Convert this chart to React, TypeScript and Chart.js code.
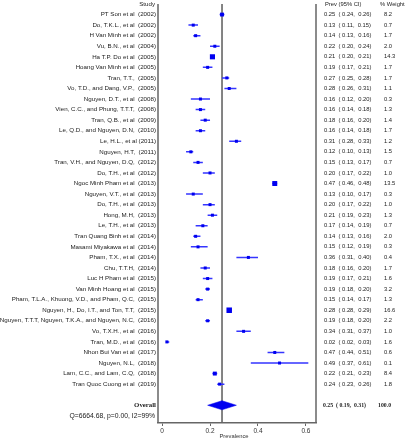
import React, { useEffect, useRef } from "react";
import { Chart, registerables } from "chart.js";

Chart.register(...registerables);

const studies = [
  "PT Son et al  (2002)",
  "Do, T.K.L., et al  (2002)",
  "H Van Minh et al  (2002)",
  "Vu, B.N., et al  (2004)",
  "Ha T.P. Do et al  (2005)",
  "Hoang Van Minh et al  (2005)",
  "Tran, T.T.,  (2005)",
  "Vo, T.D., and Dang, V.P.,  (2005)",
  "Nguyen, D.T., et al  (2008)",
  "Vien, C.C., and Phung, T.T.T,  (2008)",
  "Tran, Q.B., et al  (2009)",
  "Le, Q.D., and Nguyen, D.N,  (2010)",
  "Le, H.L., et al (2011)",
  "Nguyen, H.T,  (2011)",
  "Tran, V.H., and Nguyen, D.Q,  (2012)",
  "Do, T.H., et al  (2012)",
  "Ngoc Minh Pham et al  (2013)",
  "Nguyen, V.T., et al  (2013)",
  "Do, T.H., et al  (2013)",
  "Hong, M.H,  (2013)",
  "Le, T.H., et al  (2013)",
  "Tran Quang Binh et al  (2014)",
  "Masami Miyakawa et al  (2014)",
  "Pham, T.X., et al  (2014)",
  "Chu, T.T.H,  (2014)",
  "Luc H Pham et al  (2015)",
  "Van Minh Hoang et al  (2015)",
  "Pham, T.L.A., Khuong, V.D., and Pham, Q.C,  (2015)",
  "Nguyen, H., Do, I.T., and Ton, T.T,  (2015)",
  "Nguyen, T.T.T, Nguyen, T.K.A., and Nguyen, N.C,  (2016)",
  "Vo, T.X.H., et al  (2016)",
  "Tran, M.D., et al  (2016)",
  "Nhon Bui Van et al  (2017)",
  "Nguyen, N.L,  (2018)",
  "Lam, C.C., and Lam, C.Q,  (2018)",
  "Tran Quoc Cuong et al  (2019)",
];

const prev = [0.25, 0.13, 0.14, 0.22, 0.21, 0.19, 0.27, 0.28, 0.16, 0.16, 0.18, 0.16, 0.31, 0.12, 0.15, 0.20, 0.47, 0.13, 0.20, 0.21, 0.17, 0.14, 0.15, 0.36, 0.18, 0.19, 0.19, 0.15, 0.28, 0.19, 0.34, 0.02, 0.47, 0.49, 0.22, 0.24];
const lower = [0.24, 0.11, 0.13, 0.20, 0.20, 0.17, 0.25, 0.26, 0.12, 0.14, 0.16, 0.14, 0.28, 0.10, 0.13, 0.17, 0.46, 0.10, 0.17, 0.19, 0.14, 0.13, 0.12, 0.31, 0.16, 0.17, 0.18, 0.14, 0.28, 0.18, 0.31, 0.02, 0.44, 0.37, 0.21, 0.23];
const upper = [0.26, 0.15, 0.16, 0.24, 0.21, 0.21, 0.28, 0.31, 0.20, 0.18, 0.20, 0.18, 0.33, 0.13, 0.17, 0.22, 0.48, 0.17, 0.22, 0.23, 0.19, 0.16, 0.19, 0.40, 0.20, 0.21, 0.20, 0.17, 0.29, 0.20, 0.37, 0.03, 0.51, 0.61, 0.23, 0.26];
const weights = [8.2, 0.7, 1.7, 2.0, 14.3, 1.7, 1.7, 1.1, 0.3, 1.3, 1.4, 1.7, 1.2, 1.5, 0.7, 1.0, 13.5, 0.3, 1.0, 1.3, 0.7, 2.0, 0.3, 0.4, 1.7, 1.6, 3.2, 1.3, 16.6, 2.2, 1.0, 1.6, 0.6, 0.1, 8.4, 1.8];

const overallEst = 0.25;
const overallLow = 0.19;
const overallHigh = 0.31;
const overallWeight = "100.0";
const heterogeneity = "Q=6664.68, p=0.00, I2=99%";

const xTicks = [0, 0.2, 0.4, 0.6];
const xTickLabels = ["0", "0.2", "0.4", "0.6"];

const fmt = (v: number) => v.toFixed(2);

export default function App() {
  const ref = useRef<HTMLCanvasElement | null>(null);

  useEffect(() => {
    if (!ref.current) return;
    const n = studies.length;
    const overallRow = n + 1;
    const qRow = n + 2;
    const yMin = -1;
    const yMax = 38.68;

    const ciData: any[] = [];
    for (let i = 0; i < n; i++) {
      ciData.push({ x: lower[i], y: i });
      ciData.push({ x: upper[i], y: i });
      ciData.push({ x: null, y: null });
    }
    const sq = prev.map((p, i) => ({ x: p, y: i }));
    const radii = weights.map((w) => Math.max(3, 1.35 * Math.sqrt(w)) / Math.SQRT2);
    const dh = 0.43;
    const diamond = [
      { x: overallLow, y: overallRow },
      { x: overallEst, y: overallRow - dh },
      { x: overallHigh, y: overallRow },
      { x: overallEst, y: overallRow + dh },
      { x: overallLow, y: overallRow },
    ];

    const textPlugin = {
      id: "forestText",
      afterDraw(chart: any) {
        const ctx = chart.ctx;
        const ys = chart.scales.y;
        const xs = chart.scales.x;
        const area = chart.chartArea;
        ctx.save();
        ctx.strokeStyle = "#666";
        ctx.lineWidth = 1.5;
        ctx.beginPath();
        ctx.moveTo(area.left, area.top);
        ctx.lineTo(area.left, area.bottom);
        ctx.moveTo(area.right, area.top);
        ctx.lineTo(area.right, area.bottom);
        ctx.stroke();

        ctx.fillStyle = "#222";
        ctx.textBaseline = "middle";
        const lab = "6.2px 'Liberation Sans', Arial, sans-serif";
        const num = "5.8px 'Liberation Sans', Arial, sans-serif";
        const lx = area.left - 2;
        const cx = area.right + 8;
        const wx = area.right + 68;

        ctx.font = lab;
        ctx.textAlign = "right";
        ctx.fillText("Study", lx - 1, ys.getPixelForValue(-1) + 0.5);
        ctx.font = num;
        ctx.textAlign = "left";
        ctx.fillText("Prev (95% CI)", cx + 1, ys.getPixelForValue(-1) + 0.5);
        ctx.fillText("% Weight", wx - 4, ys.getPixelForValue(-1) + 0.5);

        for (let i = 0; i < n; i++) {
          const y = ys.getPixelForValue(i);
          ctx.font = lab;
          ctx.textAlign = "right";
          ctx.fillText(studies[i], lx, y);
          ctx.font = num;
          ctx.textAlign = "left";
          ctx.fillText(`${fmt(prev[i])}  ( ${fmt(lower[i])},  ${fmt(upper[i])})`, cx, y);
          ctx.fillText(weights[i].toFixed(1), wx, y);
        }
        const oy = ys.getPixelForValue(overallRow);
        ctx.font = "bold 6.8px 'Liberation Serif', 'Times New Roman', serif";
        ctx.textAlign = "right";
        ctx.fillText("Overall", lx, oy);
        ctx.font = "bold 5.8px 'Liberation Serif', 'Times New Roman', serif";
        ctx.textAlign = "left";
        ctx.fillText(`${fmt(overallEst)}  ( ${fmt(overallLow)},  ${fmt(overallHigh)})`, cx - 1, oy);
        ctx.fillText(overallWeight, wx - 6, oy);

        ctx.font = "6.8px 'Liberation Sans', Arial, sans-serif";
        ctx.textAlign = "right";
        ctx.fillText(heterogeneity, lx - 1, ys.getPixelForValue(qRow));

        ctx.font = "5.8px 'Liberation Sans', Arial, sans-serif";
        ctx.textAlign = "center";
        ctx.fillStyle = "#333";
        ctx.fillText("Prevalence", xs.getPixelForValue(0.3), area.bottom + 13);
        ctx.restore();
      },
    };

    const chart = new Chart(ref.current, {
      type: "scatter",
      data: {
        datasets: [
          {
            data: sq,
            pointStyle: "rect",
            pointRadius: radii,
            backgroundColor: "#0000f0",
            borderWidth: 0,
            showLine: false,
          } as any,
          {
            data: ciData,
            showLine: true,
            spanGaps: false,
            borderColor: "#3535ff",
            borderWidth: 1.5,
            pointRadius: 0,
          } as any,
          {
            data: diamond,
            showLine: true,
            borderColor: "#0000f0",
            backgroundColor: "#0000f0",
            borderWidth: 0.5,
            pointRadius: 0,
            fill: "shape",
          } as any,
          {
            data: [
              { x: overallEst, y: yMin },
              { x: overallEst, y: yMax },
            ],
            showLine: true,
            borderColor: "#666",
            borderWidth: 1.6,
            pointRadius: 0,
          } as any,
        ],
      },
      options: {
        animation: false,
        responsive: false,
        events: [],
        layout: { padding: { left: 158, right: 91, top: 4, bottom: 0 } },
        plugins: { legend: { display: false }, tooltip: { enabled: false } },
        scales: {
          x: {
            type: "linear",
            min: -0.017,
            max: 0.642,
            afterBuildTicks: (s: any) => {
              s.ticks = xTicks.map((v) => ({ value: v }));
            },
            afterFit: (s: any) => {
              s.height = 17;
            },
            grid: { display: true, drawOnChartArea: false, drawTicks: true, tickLength: 3, color: "#666" },
            border: { display: true, color: "#666", width: 1.5 },
            ticks: {
              autoSkip: false,
              maxRotation: 0,
              padding: 1,
              color: "#333",
              font: { family: "'Liberation Sans', Arial, sans-serif", size: 6.5 },
              callback: (v: any) => {
                const k = xTicks.findIndex((t) => Math.abs(t - v) < 1e-9);
                return k >= 0 ? xTickLabels[k] : "";
              },
            },
          },
          y: {
            type: "linear",
            display: false,
            reverse: true,
            min: yMin,
            max: yMax,
          },
        },
      },
      plugins: [textPlugin],
    });
    return () => chart.destroy();
  }, []);

  return (
    <div style={{ position: "absolute", left: 0, top: 0, width: 407, height: 440, background: "#fff" }}>
      <canvas ref={ref} width={407} height={440} style={{ display: "block" }} />
    </div>
  );
}
